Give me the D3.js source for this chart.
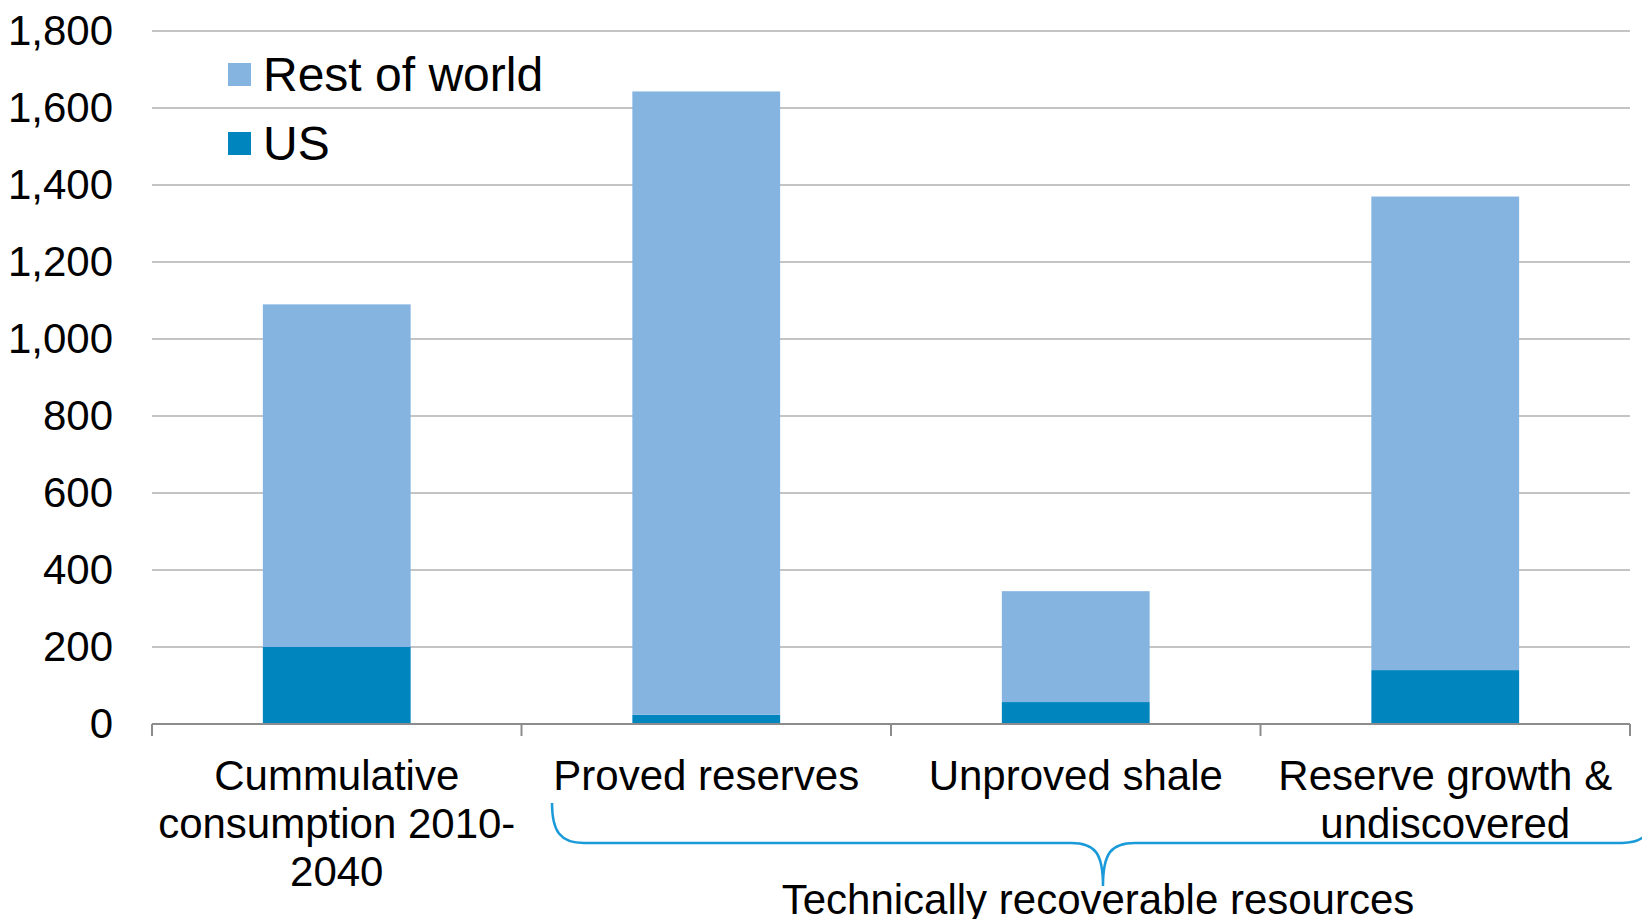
<!DOCTYPE html>
<html>
<head>
<meta charset="utf-8">
<script src="https://cdn.jsdelivr.net/npm/d3@7"></script>
<style>
  html, body { margin: 0; padding: 0; background: #fff; }
  svg { display: block; font-family: "Liberation Sans", Arial, sans-serif; }
</style>
</head>
<body>
<svg id="chart" width="1642" height="919"></svg>
<script>
// Categories (multi-line labels) and stacked series values
const categories = ["cum", "proved", "shale", "growth"];
const categoryLabels = [
  ["Cummulative", "consumption 2010-", "2040"],
  ["Proved reserves"],
  ["Unproved shale"],
  ["Reserve growth &", "undiscovered"]
];
const usValues = [200, 24, 57, 140];
const restOfWorldValues = [890, 1619, 288, 1230];
const seriesNames = ["US", "Rest of world"];
const seriesColors = ["#0085bf", "#85b4e0"];
const yTicks = [0, 200, 400, 600, 800, 1000, 1200, 1400, 1600, 1800];
const groupLabel = "Technically recoverable resources";

const svg = d3.select("#chart");
const margin = { left: 152, right: 12, top: 31, bottom: 195 };
const W = 1642, H = 919;
const plotBottom = 724;

const y = d3.scaleLinear().domain([0, 1800]).range([plotBottom, margin.top]);
const x = d3.scaleBand().domain(categories)
  .range([margin.left, W - margin.right])
  .paddingInner(0.6).paddingOuter(0.3);
const xEdge = d3.scaleLinear().domain([0, categories.length])
  .range([margin.left, W - margin.right]);

// Horizontal gridlines
svg.append("g").selectAll("line").data(yTicks.filter(d => d > 0)).join("line")
  .attr("x1", margin.left).attr("x2", W - margin.right)
  .attr("y1", d => y(d)).attr("y2", d => y(d))
  .attr("stroke", "#c4c4c4").attr("stroke-width", 2);

// Y axis labels
const yAxis = d3.axisLeft(y).tickValues(yTicks).tickSize(0).tickPadding(39)
  .tickFormat(d3.format(","));
const gy = svg.append("g").attr("transform", `translate(${margin.left},0)`).call(yAxis);
gy.select(".domain").remove();
gy.selectAll("text").attr("font-size", 42).attr("fill", "#000")
  .attr("font-family", "'Liberation Sans', Arial, sans-serif");

// Stacked bars
const rows = categories.map((c, i) => ({ cat: c, "US": usValues[i], "Rest of world": restOfWorldValues[i] }));
const stacked = d3.stack().keys(seriesNames)(rows);
svg.append("g").selectAll("g").data(stacked).join("g")
  .attr("fill", (d, i) => seriesColors[i])
  .selectAll("rect").data(d => d).join("rect")
  .attr("x", d => x(d.data.cat))
  .attr("width", x.bandwidth())
  .attr("y", d => y(d[1]))
  .attr("height", d => y(d[0]) - y(d[1]));

// Category axis line and boundary ticks
svg.append("line")
  .attr("x1", margin.left).attr("x2", W - margin.right)
  .attr("y1", plotBottom).attr("y2", plotBottom)
  .attr("stroke", "#8c8c8c").attr("stroke-width", 2);
svg.append("g").selectAll("line").data(d3.range(categories.length + 1)).join("line")
  .attr("x1", d => xEdge(d)).attr("x2", d => xEdge(d))
  .attr("y1", plotBottom).attr("y2", plotBottom + 12)
  .attr("stroke", "#8c8c8c").attr("stroke-width", 2);

// Category labels
const lab = svg.append("g").attr("font-size", 42).attr("fill", "#000").attr("text-anchor", "middle");
categories.forEach((c, i) => {
  categoryLabels[i].forEach((line, j) => {
    lab.append("text")
      .attr("x", x(c) + x.bandwidth() / 2)
      .attr("y", 790 + j * 48)
      .text(line);
  });
});

// Brace grouping the last three categories
const bL = 552, bR = 1654, bMid = (bL + bR) / 2, bTop = 803, bLine = 843, bTip = 886;
const p = d3.path();
p.moveTo(bL, bTop);
p.bezierCurveTo(bL, bLine - 12, bL + 8, bLine, bL + 32, bLine);
p.lineTo(bMid - 32, bLine);
p.bezierCurveTo(bMid - 8, bLine, bMid, bLine + 10, bMid, bTip);
p.bezierCurveTo(bMid, bLine + 10, bMid + 8, bLine, bMid + 32, bLine);
p.lineTo(bR - 32, bLine);
p.bezierCurveTo(bR - 8, bLine, bR, bLine - 12, bR, bTop);
svg.append("path").attr("d", p.toString())
  .attr("fill", "none").attr("stroke", "#1a9ad8").attr("stroke-width", 2.5);

svg.append("text")
  .attr("x", 1098).attr("y", 914)
  .attr("font-size", 42).attr("text-anchor", "middle").attr("fill", "#000")
  .text(groupLabel);

// Legend
const legendItems = [
  { name: "Rest of world", color: seriesColors[1] },
  { name: "US", color: seriesColors[0] }
];
const lg = svg.append("g").selectAll("g").data(legendItems).join("g")
  .attr("transform", (d, i) => `translate(228,${63 + i * 69})`);
lg.append("rect").attr("width", 23).attr("height", 23).attr("fill", d => d.color);
lg.append("text").attr("x", 35).attr("y", 28)
  .attr("font-size", 48).attr("fill", "#000").text(d => d.name);
</script>
</body>
</html>
